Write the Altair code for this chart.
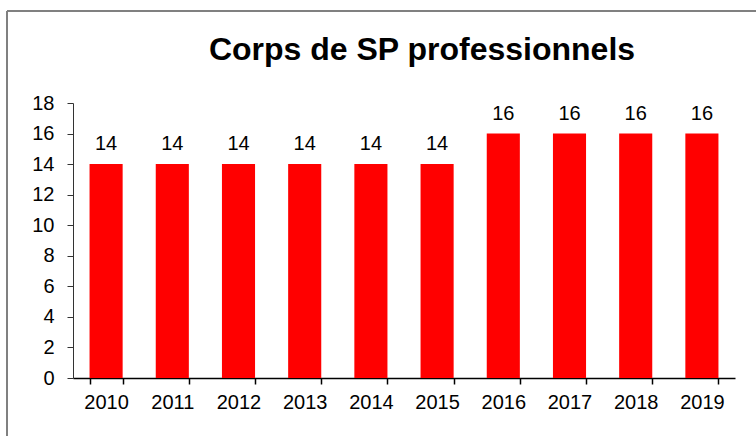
import altair as alt
import pandas as pd

years = ["2010", "2011", "2012", "2013", "2014", "2015", "2016", "2017", "2018", "2019"]
values = [14, 14, 14, 14, 14, 14, 16, 16, 16, 16]
y_ticks = [0, 2, 4, 6, 8, 10, 12, 14, 16, 18]
title_text = "Corps de SP professionnels"

df = pd.DataFrame({"year": years, "value": values})
FONT = "Liberation Sans"

x = alt.X("year:N", sort=years, title=None,
          scale=alt.Scale(paddingInner=0.5, paddingOuter=0.25),
          axis=alt.Axis(labelAngle=0, labelFont=FONT, labelFontSize=20, labelColor="#000",
                        tickBand="extent", tickSize=6, tickColor="#000", tickWidth=1.5,
                        domainColor="#000", domainWidth=1.5, labelPadding=8))
y = alt.Y("value:Q", title=None,
          scale=alt.Scale(domain=[0, 18], nice=False, zero=True),
          axis=alt.Axis(values=y_ticks, tickCount=10, labelFont=FONT, labelFontSize=20, labelColor="#000",
                        labelOverlap=False, labelFlush=False,
                        tickSize=6, tickColor="#333", domainColor="#333", grid=False,
                        labelPadding=13))

base = alt.Chart(df).encode(x=x, y=y)
bars = base.mark_bar(color="#FF0000")
labels = base.mark_text(font=FONT, fontSize=20, color="#000", baseline="alphabetic", dy=-14).encode(
    text="value:Q")

frame_top = alt.Chart(df).mark_rule(stroke="#808080", strokeWidth=1.5).encode(
    x=alt.value(-66), x2=alt.value(683), y=alt.value(-92))
frame_left = alt.Chart(df).mark_rule(stroke="#808080", strokeWidth=1.5).encode(
    x=alt.value(-66), y=alt.value(-92), y2=alt.value(336))

chart = alt.layer(bars, labels, frame_top, frame_left).properties(
    width=662, height=275,
    autosize=alt.AutoSizeParams(type="none"),
    padding={"left": 73, "top": 103, "right": 21, "bottom": 58},
    title=alt.TitleParams(title_text, font=FONT, fontSize=32, fontWeight="bold", color="#000",
                          anchor="middle", frame="group", baseline="alphabetic", offset=-82, dx=18),
).configure_view(stroke=None)

chart.save("out.html", embed_options={"renderer": "svg", "actions": False})
